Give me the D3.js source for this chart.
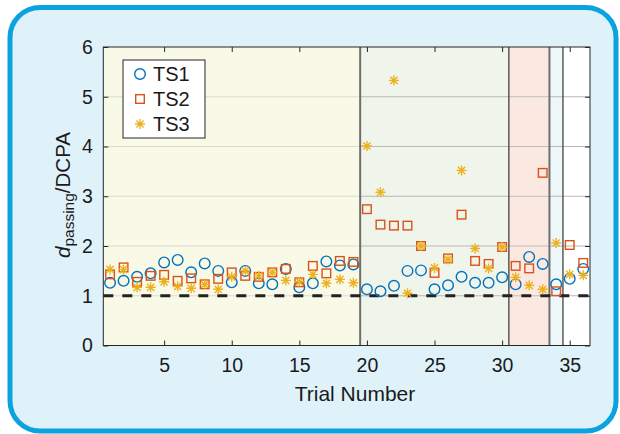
<!DOCTYPE html>
<html><head><meta charset="utf-8">
<script src="https://cdn.jsdelivr.net/npm/d3@7/dist/d3.min.js"></script>
<style>body{margin:0;background:#fff}svg{display:block;font-family:"Liberation Sans",Arial,sans-serif}</style>
</head><body>
<svg id="c" width="620" height="434"></svg>
<script>
const trials = d3.range(1, 37);
const ts1 = [1.26,1.30,1.38,1.45,1.67,1.72,1.47,1.65,1.50,1.27,1.50,1.25,1.23,1.54,1.17,1.25,1.69,1.61,1.63,
             1.13,1.09,1.20,1.50,1.51,1.13,1.21,1.38,1.26,1.26,1.37,1.23,1.78,1.64,1.23,1.34,1.54];
const ts2 = [1.43,1.57,1.28,1.40,1.42,1.30,1.35,1.23,1.34,1.47,1.40,1.38,1.47,1.54,1.27,1.60,1.45,1.70,1.68,
             2.74,2.43,2.41,2.41,2.00,1.46,1.75,2.63,1.70,1.64,1.98,1.60,1.55,3.47,1.09,2.02,1.66];
const ts3 = [1.53,1.53,1.17,1.17,1.28,1.19,1.15,1.23,1.13,1.38,1.50,1.40,1.47,1.31,1.28,1.43,1.25,1.33,1.26,
             4.01,3.08,5.33,1.05,2.00,1.56,1.73,3.52,1.95,1.55,1.98,1.37,1.21,1.13,2.06,1.43,1.41];
const seriesNames = ["TS1","TS2","TS3"];
const regionStarts = [0.5, 19.5, 30.5, 33.5, 34.5];
const regionEnds   = [19.5, 30.5, 33.5, 34.5, 36.5];
const xTicks = [5,10,15,20,25,30,35];
const yTicks = [0,1,2,3,4,5,6];
const threshold = 1;

const regionFill = ["#f9f9e7","#f0f5eb","#fbe9e1","#eef7fa","#ffffff"];
const regionGrid = ["#dadad0","#b8b8b8","#bcbcbc","#b8b8b8","#b8b8b8"];
const regionLine = [null,{c:"#6e6e6e",w:2},{c:"#333",w:1.2},{c:"#6e6e6e",w:2},{c:"#333",w:1.2}];

const svg = d3.select("#c");
svg.append("rect").attr("x",10).attr("y",7.5).attr("width",606).attr("height",423.5)
  .attr("rx",30).attr("fill","#dff2fa").attr("stroke","#0aa3df").attr("stroke-width",5);

const L=103.3, R=590, T=47, B=345.5;
const x = d3.scaleLinear().domain([0.5,36.5]).range([L,R]);
const y = d3.scaleLinear().domain([0,6]).range([B,T]);
const g = svg.append("g");

// regions
regionStarts.forEach((s,i)=>{
  g.append("rect").attr("x",x(s)).attr("y",T).attr("width",x(regionEnds[i])-x(s)).attr("height",B-T)
   .attr("fill",regionFill[i]);
  [1,2,3,4,5].forEach(v=>{
    g.append("line").attr("x1",x(s)).attr("x2",x(regionEnds[i])).attr("y1",y(v)).attr("y2",y(v))
     .attr("stroke",regionGrid[i]).attr("stroke-width",1);
  });
});
regionStarts.forEach((s,i)=>{
  if(regionLine[i]) g.append("line").attr("x1",x(s)).attr("x2",x(s)).attr("y1",T).attr("y2",B)
    .attr("stroke",regionLine[i].c).attr("stroke-width",regionLine[i].w);
});

// threshold dashed line
g.append("line").attr("x1",L).attr("x2",R).attr("y1",y(threshold)).attr("y2",y(threshold))
  .attr("stroke","#222").attr("stroke-width",3).attr("stroke-dasharray","10,9");

// axes
const xb = d3.axisBottom(x).tickValues(xTicks).tickSizeInner(-5).tickSizeOuter(0).tickPadding(13);
const xt = d3.axisTop(x).tickValues(xTicks).tickSizeInner(-5).tickSizeOuter(0).tickFormat("");
const yl = d3.axisLeft(y).tickValues(yTicks).tickFormat(d3.format("d")).tickSizeInner(-5).tickSizeOuter(0).tickPadding(10.5);
const yr = d3.axisRight(y).tickValues(yTicks).tickSizeInner(-5).tickSizeOuter(0).tickFormat("");
function style(sel){
  sel.select(".domain").remove();
  sel.selectAll(".tick line").attr("stroke","#262626");
  sel.selectAll("text").attr("fill","#1a1a1a").attr("font-size",19.5);
}
svg.append("g").attr("transform",`translate(0,${B})`).call(xb).call(style);
svg.append("g").attr("transform",`translate(0,${T})`).call(xt).call(style);
svg.append("g").attr("transform",`translate(${L},0)`).call(yl).call(style);
svg.append("g").attr("transform",`translate(${R},0)`).call(yr).call(style);
svg.append("rect").attr("x",L).attr("y",T).attr("width",R-L).attr("height",B-T)
  .attr("fill","none").attr("stroke","#262626").attr("stroke-width",1);

// markers
const colors = ["#0072bd","#d95319","#edb120"];
function drawMarker(sel, k){
  if(k===0) sel.append("circle").attr("r",5.3).attr("fill","none").attr("stroke",colors[0]).attr("stroke-width",1.4);
  else if(k===1) sel.append("rect").attr("x",-4.3).attr("y",-4.3).attr("width",8.6).attr("height",8.6)
     .attr("fill","none").attr("stroke",colors[1]).attr("stroke-width",1.4);
  else {
    const a=5, d=3.6;
    sel.append("path").attr("d",`M${-a},0H${a}M0,${-a}V${a}M${-d},${-d}L${d},${d}M${-d},${d}L${d},${-d}`)
      .attr("stroke",colors[2]).attr("stroke-width",1.4).attr("fill","none");
  }
}
[ts1,ts2,ts3].forEach((s,k)=>{
  const mg = svg.append("g");
  s.forEach((v,i)=>{
    const m = mg.append("g").attr("transform",`translate(${x(trials[i])},${y(v)})`);
    drawMarker(m,k);
  });
});

// legend
const lg = svg.append("g").attr("transform","translate(123,60)");
lg.append("rect").attr("width",82).attr("height",78).attr("fill","#fff").attr("stroke","#262626").attr("stroke-width",1);
seriesNames.forEach((n,k)=>{
  const row = lg.append("g").attr("transform",`translate(17,${14+k*25})`);
  drawMarker(row,k);
  row.append("text").attr("x",13).attr("y",7).attr("font-size",20).attr("fill","#1a1a1a").text(n);
});

// axis titles
svg.append("text").attr("x",355).attr("y",400.5).attr("text-anchor","middle")
  .attr("font-size",21).attr("fill","#1a1a1a").text("Trial Number");
const yt = svg.append("text").attr("transform",`translate(70,195) rotate(-90)`)
  .attr("text-anchor","middle").attr("font-size",20.5).attr("fill","#1a1a1a");
yt.append("tspan").attr("font-style","italic").text("d");
yt.append("tspan").attr("font-size",15.5).attr("dy",4).text("passing");
yt.append("tspan").attr("dy",-4).text("/DCPA");
</script>
</body></html>
